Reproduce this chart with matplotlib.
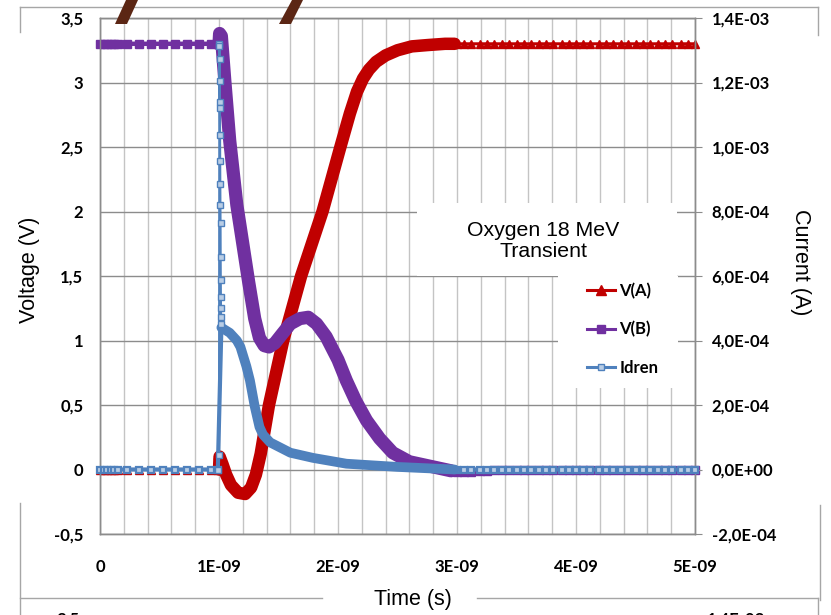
import matplotlib
matplotlib.use("Agg")
import matplotlib.pyplot as plt
import numpy as np
from matplotlib.lines import Line2D
from matplotlib.patches import Polygon, Rectangle

# sample times (ns) of the quiet parts before and after the ion strike
t_pre = [0.0, 0.03, 0.06, 0.09, 0.12, 0.15, 0.23, 0.33, 0.43, 0.53, 0.63, 0.73, 0.83, 0.93, 0.99]
t_post = [3.00, 3.06, 3.12, 3.19, 3.25, 3.31, 3.38, 3.44, 3.50, 3.56, 3.62, 3.69, 3.75,
          3.81, 3.88, 3.94, 4.00, 4.06, 4.12, 4.19, 4.25, 4.31, 4.38, 4.44, 4.50, 4.56,
          4.62, 4.69, 4.75, 4.81, 4.88, 4.94, 5.00]

# V(A) node voltage (V)
va_pre = [0.0] * len(t_pre)
va_t = [1.0, 1.005, 1.03, 1.06, 1.1, 1.16, 1.22, 1.27, 1.31, 1.35, 1.42, 1.54, 1.69,
        1.87, 2.02, 2.1, 2.16, 2.21, 2.26, 2.32, 2.4, 2.5, 2.62, 2.75, 2.9, 2.98]
va_v = [0.0, 0.1, 0.04, -0.04, -0.12, -0.18, -0.19, -0.14, -0.04, 0.12, 0.5, 1.0, 1.5,
        2.0, 2.5, 2.76, 2.93, 3.03, 3.1, 3.16, 3.21, 3.25, 3.28, 3.29, 3.3, 3.3]
va_post = [3.3] * len(t_post)

# V(B) node voltage (V)
vb_pre = [3.3] * len(t_pre)
vb_t = [1.0, 1.005, 1.02, 1.05, 1.09, 1.15, 1.2, 1.25, 1.3, 1.34, 1.38, 1.42, 1.47,
        1.53, 1.6, 1.68, 1.75, 1.82, 1.9, 2.0, 2.07, 2.15, 2.24, 2.35, 2.46, 2.6, 2.8,
        2.95]
vb_v = [3.3, 3.38, 3.36, 3.0, 2.55, 2.05, 1.75, 1.45, 1.17, 1.02, 0.96, 0.95, 0.98,
        1.05, 1.13, 1.17, 1.18, 1.13, 1.03, 0.85, 0.69, 0.53, 0.38, 0.24, 0.13, 0.06,
        0.02, -0.01]
vb_post = [-0.02, -0.02, -0.02, -0.015, -0.01, -0.005] + [0.0] * 27

# drain current (A): spike at the strike, then slow decay
id_pre = [0.0] * len(t_pre)
id_spike_t = [1.0, 1.003, 1.004, 1.005, 1.006, 1.007, 1.008, 1.009, 1.010, 1.011,
              1.012, 1.013, 1.014, 1.015, 1.016, 1.017, 1.018, 1.019]
id_spike_v = [0.045e-3, 1.32e-3, 1.312e-3, 1.272e-3, 1.204e-3, 1.14e-3, 1.12e-3,
              1.036e-3, 0.956e-3, 0.884e-3, 0.82e-3, 0.764e-3, 0.66e-3, 0.588e-3,
              0.536e-3, 0.5e-3, 0.472e-3, 0.452e-3]
id_t = [1.02, 1.09, 1.15, 1.18, 1.23, 1.26, 1.30, 1.34, 1.37, 1.43, 1.6, 1.79, 2.07,
        2.5, 2.98]
id_v = [0.44e-3, 0.424e-3, 0.40e-3, 0.38e-3, 0.32e-3, 0.276e-3, 0.196e-3, 0.132e-3,
        0.108e-3, 0.084e-3, 0.052e-3, 0.036e-3, 0.018e-3, 0.008e-3, 0.0]
id_post = [0.0] * len(t_post)

v_ticks = [-0.5, 0, 0.5, 1, 1.5, 2, 2.5, 3, 3.5]
i_ticks = [-2e-4, 0, 2e-4, 4e-4, 6e-4, 8e-4, 1.0e-3, 1.2e-3, 1.4e-3]
t_ticks = [0, 1e-9, 2e-9, 3e-9, 4e-9, 5e-9]
t_labels = ["0", "1E-09", "2E-09", "3E-09", "4E-09", "5E-09"]

RED = "#c00000"
PURPLE = "#7030a0"
BLUE = "#4f81bd"
LIGHT = "#b9cde5"
GRID = "#8c8c8c"
TICKFONT = dict(family="Lato", weight="bold", size=12)

W, H = 831, 615


def px(x, y):
    return (x / W, 1 - y / H)


def ns(t):
    return np.array(t) * 1e-9


fig = plt.figure(figsize=(W / 100, H / 100), dpi=100)
ax = fig.add_axes([100 / W, 1 - 534 / H, 595 / W, 516 / H])
ax2 = ax.twinx()


def draw_series(axis, pre, tr_t, tr_v, post, color, marker, ms, mfc, lw_thin, lw_thick,
                z, mew=1.0):
    t_all = ns(t_pre + tr_t + t_post)
    v_all = pre + tr_v + post
    n_pre, n_tr = len(pre), len(tr_t)
    marks = list(range(n_pre)) + list(range(n_pre + n_tr, len(t_all)))
    axis.plot(t_all, v_all, color=color, lw=lw_thin, marker=marker, ms=ms, mfc=mfc,
              mec=color, mew=mew, markevery=marks, clip_on=False, zorder=z)
    axis.plot(ns(tr_t), tr_v, color=color, lw=lw_thick, solid_joinstyle="round",
              solid_capstyle="round", clip_on=False, zorder=z)


draw_series(ax, va_pre, va_t, va_v, va_post, RED, "^", 6, RED, 2.2, 9.0, 2)
draw_series(ax, vb_pre, vb_t, vb_v, vb_post, PURPLE, "s", 6, PURPLE, 3.2, 9.5, 3)

# drain current on the secondary axis, spike drawn thin with its markers
t_spike = ns([t_pre[-1]] + id_spike_t)
ax2.plot(t_spike, [0.0] + id_spike_v, color=BLUE, lw=1.5, marker="s", ms=4.5,
         mfc=LIGHT, mec=BLUE, clip_on=False, zorder=4)
draw_series(ax2, id_pre, id_t, id_v, id_post, BLUE, "s", 5.0, LIGHT, 3.0, 7.0, 3,
            mew=1.6)

ax.set_xlim(0, 5e-9)
ax.set_ylim(-0.5, 3.5)
ax2.set_ylim(-2e-4, 1.4e-3)

ax.set_xticks(t_ticks)
ax.set_xticklabels(t_labels, **TICKFONT)
ax.set_xticks(np.arange(0, 5.01, 0.2) * 1e-9, minor=True)
ax.set_yticks(v_ticks)
ax.set_yticklabels([f"{v:g}".replace(".", ",") for v in v_ticks], **TICKFONT)
ax2.set_yticks(i_ticks)
ax2.set_yticklabels([f"{v:.1E}".replace(".", ",") for v in i_ticks], **TICKFONT)

ax.grid(axis="y", which="major", color=GRID, lw=1)
ax.grid(axis="x", which="both", color="#c4c4c4", lw=1)
ax.set_axisbelow(True)
ax.tick_params(axis="both", which="both", length=0)
ax.tick_params(axis="y", pad=12)
ax.tick_params(axis="x", pad=18)
ax2.tick_params(axis="y", length=5, color=GRID, pad=7)
for a in (ax, ax2):
    for s in a.spines.values():
        s.set_color(GRID)
        s.set_linewidth(1)

# white boxes behind the title and the legend
for x0, y0, x1, y1 in [(417, 203, 677, 276), (558, 276, 678, 388)]:
    fig.add_artist(Rectangle(px(x0, y1), (x1 - x0) / W, (y1 - y0) / H,
                             transform=fig.transFigure, facecolor="white",
                             edgecolor="none", zorder=1))

fig.text(*px(543, 241), "Oxygen 18 MeV\nTransient", ha="center", va="center",
         family="Liberation Sans", fontsize=15.3, linespacing=1.08, zorder=3)

handles = [
    Line2D([], [], color=RED, lw=2.2, marker="^", ms=7),
    Line2D([], [], color=PURPLE, lw=2.2, marker="s", ms=6),
    Line2D([], [], color=BLUE, lw=2.2, marker="s", ms=5, mfc=LIGHT, mec=BLUE),
]
fig.legend(handles, ["V(A)", "V(B)", "Idren"], loc="upper left",
           bbox_to_anchor=px(587, 283), bbox_transform=fig.transFigure,
           frameon=False, prop=dict(family="Lato", weight="bold", size=12),
           labelspacing=1.32, handlelength=1.7, handletextpad=0.25,
           borderpad=0, borderaxespad=0)

fig.text(*px(30, 270), "Voltage (V)", rotation=90, ha="center", va="center",
         family="Liberation Sans", fontsize=15.5)
fig.text(*px(800, 262), "Current (A)", rotation=270, ha="center", va="center",
         family="Liberation Sans", fontsize=15.5)
fig.text(*px(413, 600), "Time (s)", ha="center", va="center",
         family="Liberation Sans", fontsize=15.5)

# frame of the chart and of the one below it
frame = [
    [(20, 7), (818, 7)], [(20, 7), (20, 32)], [(818, 7), (818, 35)],
    [(20, 503), (20, 615)], [(20, 598), (322, 598)], [(477, 598), (818, 598)],
    [(820, 505), (820, 600)], [(818, 598), (818, 615)],
]
for (xa, ya), (xb, yb) in frame:
    fig.add_artist(Line2D([xa / W, xb / W], [1 - ya / H, 1 - yb / H],
                          transform=fig.transFigure, color="#a6a6a6", lw=1))

# tops of the tick labels of the chart below
fig.text(*px(80, 620), "3,5", ha="right", va="center", **TICKFONT)
fig.text(*px(707, 620), "1,4E-03", ha="left", va="center", **TICKFONT)

# dark slashes along the top edge
for pts in [[(115, 24), (127, 24), (138, 0), (126, 0)],
            [(279, 24), (291, 24), (303, 0), (292, 0)]]:
    fig.add_artist(Polygon([px(x, y) for x, y in pts], closed=True,
                           transform=fig.transFigure, facecolor="#5b2614",
                           edgecolor="none", zorder=5))

fig.savefig("out.png", dpi=100)
